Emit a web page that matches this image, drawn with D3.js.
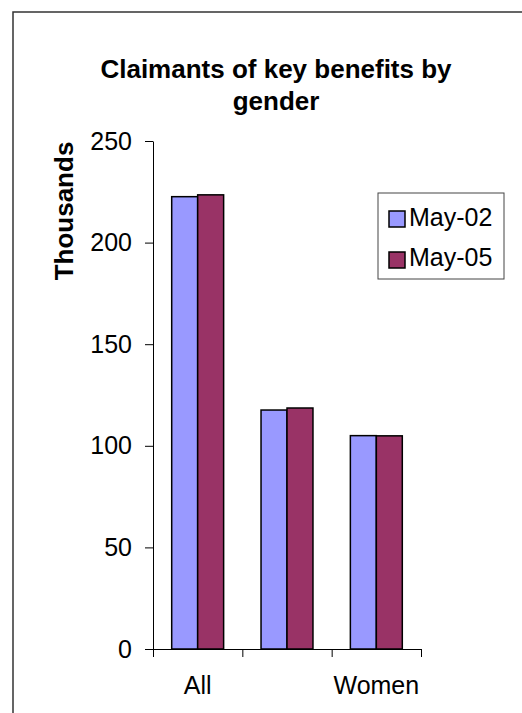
<!DOCTYPE html>
<html>
<head>
<meta charset="utf-8">
<script src="https://cdn.jsdelivr.net/npm/d3@7"></script>
<style>
    body { margin: 0; background: #fff; }
    text { font-family: "Liberation Sans", Arial, sans-serif; fill: #000; }
</style>
</head>
<body>
<div id="chart"></div>
<script>
const categories = ["All", "Men", "Women"];
const xLabels = ["All", "", "Women"];
const seriesNames = ["May-02", "May-05"];
const may02 = [222.6, 117.6, 105.0];
const may05 = [223.5, 118.6, 104.9];
const yTicks = [0, 50, 100, 150, 200, 250];
const seriesColors = ["#9999FF", "#993366"];

const W = 522, H = 713;
const svg = d3.select("#chart").append("svg")
    .attr("width", W)
    .attr("height", H);

// chart area border (runs off right / bottom like the source)
svg.append("rect")
    .attr("x", 13).attr("y", 12)
    .attr("width", 530).attr("height", 720)
    .attr("fill", "#fff")
    .attr("stroke", "#333")
    .attr("stroke-width", 1.5);

const data = categories.map((c, i) => ({cat: c, values: [may02[i], may05[i]]}));

const x = d3.scaleBand().domain(categories).range([153, 421]);
const xs = d3.scaleBand().domain(seriesNames).range([0, x.bandwidth()]).paddingOuter(0.72);
const y = d3.scaleLinear().domain([0, 250]).range([649, 141]);

// title
const title = svg.append("text")
    .attr("text-anchor", "middle")
    .style("font-size", "26px")
    .style("font-weight", "bold");
title.append("tspan").attr("x", 276).attr("y", 78).text("Claimants of key benefits by");
title.append("tspan").attr("x", 276).attr("y", 110).text("gender");

// y axis
const yAxis = svg.append("g")
    .attr("transform", "translate(153,0)")
    .call(d3.axisLeft(y).tickValues(yTicks).tickSize(8).tickSizeOuter(0).tickPadding(13));
yAxis.selectAll("text").style("font-size", "25px");
yAxis.selectAll("line, path").attr("stroke", "#000");

svg.append("text")
    .attr("transform", "translate(73,211) rotate(-90)")
    .attr("text-anchor", "middle")
    .style("font-size", "26px")
    .style("font-weight", "bold")
    .text("Thousands");

// bars
svg.selectAll(".grp")
    .data(data)
    .enter()
    .append("g")
    .attr("class", "grp")
    .attr("transform", d => `translate(${x(d.cat)},0)`)
    .selectAll("rect")
    .data(d => d.values.map((v, i) => ({name: seriesNames[i], value: v, i: i})))
    .enter()
    .append("rect")
    .attr("x", d => xs(d.name))
    .attr("y", d => y(d.value))
    .attr("width", xs.bandwidth())
    .attr("height", d => y(0) - y(d.value))
    .attr("fill", d => seriesColors[d.i])
    .attr("stroke", "#000")
    .attr("stroke-width", 1.5);

// x axis: line with ticks at band edges
const edge = d3.scaleLinear().domain([0, categories.length]).range([153, 421]);
const xAxis = svg.append("g")
    .attr("transform", "translate(0,649)")
    .call(d3.axisBottom(edge).tickValues(d3.range(categories.length + 1)).tickFormat("").tickSize(8).tickSizeOuter(0));
xAxis.selectAll("line, path").attr("stroke", "#000");

const xLab = svg.append("g")
    .attr("transform", "translate(0,649)")
    .call(d3.axisBottom(x).tickSize(0).tickPadding(27).tickFormat((d, i) => xLabels[i]));
xLab.select(".domain").remove();
xLab.selectAll("text").style("font-size", "25px");

// legend
const legend = svg.append("g");
legend.append("rect")
    .attr("x", 378).attr("y", 193)
    .attr("width", 126).attr("height", 86)
    .attr("fill", "#fff")
    .attr("stroke", "#444")
    .attr("stroke-width", 1);
seriesNames.forEach((s, i) => {
    legend.append("rect")
        .attr("x", 389).attr("y", 211 + i * 41)
        .attr("width", 16).attr("height", 16)
        .attr("fill", seriesColors[i])
        .attr("stroke", "#000")
        .attr("stroke-width", 1.5);
    legend.append("text")
        .attr("x", 409).attr("y", 226 + i * 40)
        .style("font-size", "25px")
        .text(s);
});
</script>
</body>
</html>
